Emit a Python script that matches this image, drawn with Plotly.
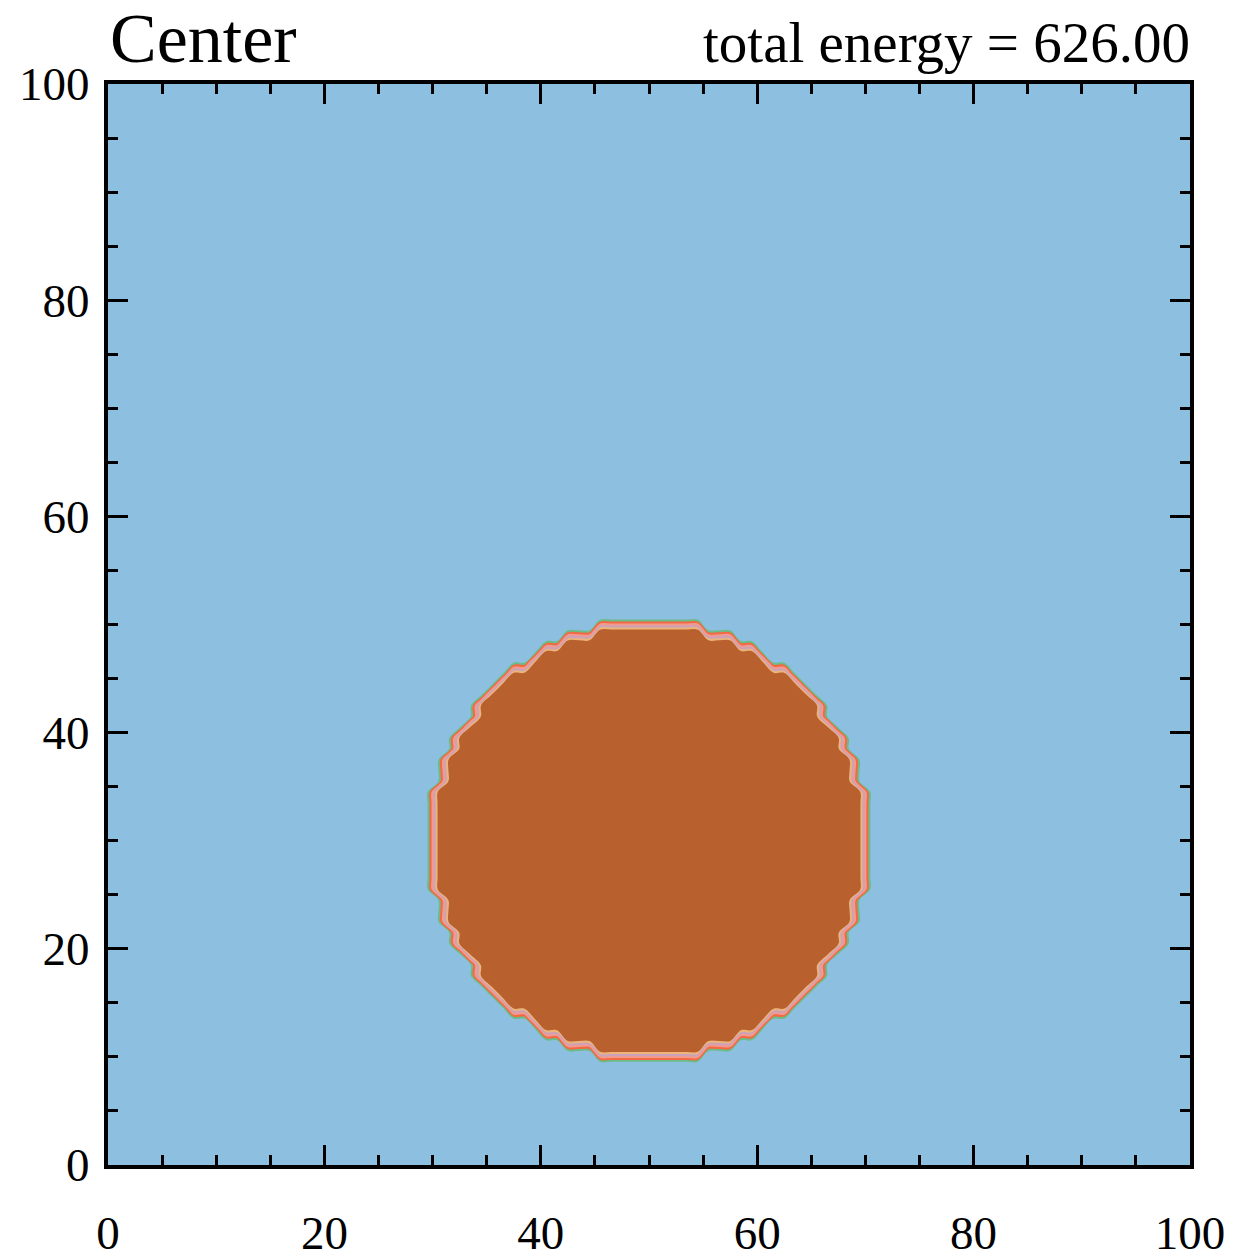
import numpy as np
import plotly.graph_objects as go

# ---- data ----
grid_size = 100                      # 100 x 100 cells, cell centres at k + 0.5
disk_center_col = 50                 # disk is symmetric about x = 50
disk_rows = list(range(10, 50))      # rows (cells) that contain part of the disk
disk_row_half_width = [5, 8, 10, 11, 13, 14, 15, 16, 16, 17,
                       18, 18, 19, 19, 19, 20, 20, 20, 20, 20,
                       20, 20, 20, 20, 20, 19, 19, 19, 18, 18,
                       17, 16, 16, 15, 14, 13, 11, 10, 8, 5]
field_outside = 0.0
field_inside = 1.0
tick_values = [0, 20, 40, 60, 80, 100]
title_left = "Center"
title_right = "total energy = 626.00"

band_colors = ["#8DC0E0",  # background blue
               "#6DBB86",  # green
               "#F26A45",  # red-orange
               "#F39A8E",  # salmon
               "#CDA2B8",  # lilac
               "#EDB47A",  # peach
               "#B8602E"]  # brown interior

# ---- build field ----
cells = np.arange(grid_size) + 0.5
z = np.full((grid_size, grid_size), field_outside)
for row, hw in zip(disk_rows, disk_row_half_width):
    z[row, disk_center_col - hw:disk_center_col + hw] = field_inside

n_bands = len(band_colors)
colorscale = [[k / (n_bands - 1), c] for k, c in enumerate(band_colors)]

fig = go.Figure(go.Contour(
    x=cells, y=cells, z=z,
    autocontour=False,
    contours=dict(start=0.04, end=0.96, size=0.184, coloring="fill", showlines=False),
    line=dict(width=0),
    colorscale=colorscale,
    showscale=False,
    hoverinfo="skip",
))

font_family = "Liberation Serif, Times New Roman, serif"
axis_common = dict(
    range=[0, 100], tickvals=tick_values, automargin=False,
    ticks="inside", ticklen=20, tickwidth=3, tickcolor="black",
    showline=True, linewidth=4, linecolor="black", mirror="allticks",
    minor=dict(dtick=5, ticks="inside", ticklen=10, tickwidth=3, tickcolor="black", showgrid=False),
    showgrid=False, zeroline=False,
    tickfont=dict(family=font_family, size=47, color="black"),
)
fig.update_xaxes(**axis_common, ticklabelstandoff=24)
fig.update_yaxes(**axis_common, ticklabelstandoff=5)

fig.update_layout(
    width=1239, height=1258,
    margin=dict(l=108, r=49, t=84, b=93, autoexpand=False),
    paper_bgcolor="white", plot_bgcolor=band_colors[0],
    showlegend=False,
    annotations=[
        dict(text=title_left, xref="paper", yref="paper", x=0, y=1, xanchor="left", yanchor="bottom",
             yshift=5, xshift=0, showarrow=False, font=dict(family=font_family, size=70, color="black")),
        dict(text=title_right, xref="paper", yref="paper", x=1, y=1, xanchor="right", yanchor="bottom",
             yshift=8, xshift=2, showarrow=False, font=dict(family=font_family, size=57, color="black")),
    ],
)

fig.write_html("out.html")
